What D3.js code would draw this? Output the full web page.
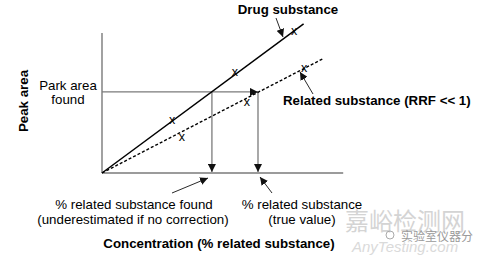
<!DOCTYPE html>
<html>
<head>
<meta charset="utf-8">
<script src="https://cdn.jsdelivr.net/npm/d3@7"></script>
<style>
  html, body { margin: 0; padding: 0; background: #fff; }
  svg text { font-family: "Liberation Sans", Arial, Helvetica, sans-serif; }
</style>
</head>
<body>
<div id="chart"></div>
<script>
// concentration (x) / peak area (y), arbitrary units
const drugLine = [[0, 0], [8.4, 10.65]];
const relatedLine = [[0, 0], [9.25, 8.2]];
const drugPoints = [[2.92, 3.79], [5.54, 7.21], [8.0, 10.14]];
const relatedPoints = [[3.33, 2.57], [6.04, 5.07], [8.42, 7.5]];
const foundArea = 5.79;
const foundConc = 4.58;
const trueConc = 6.5;

const width = 477, height = 259;
const x = d3.scaleLinear().domain([0, 10]).range([102, 342]);
const y = d3.scaleLinear().domain([0, 10]).range([173, 33]);

const svg = d3.select("#chart").append("svg")
  .attr("width", width).attr("height", height);

const defs = svg.append("defs");
defs.append("marker")
  .attr("id", "head")
  .attr("viewBox", "0 0 10 10")
  .attr("refX", 10).attr("refY", 5)
  .attr("markerWidth", 8).attr("markerHeight", 8)
  .attr("markerUnits", "userSpaceOnUse")
  .attr("orient", "auto")
  .append("path").attr("d", "M0,0L10,5L0,10Z").attr("fill", "#111");

// watermark
const wm = svg.append("g").attr("fill", "#d4d4d4");
wm.append("text").attr("x", 345).attr("y", 230)
  .style("font-family", "'Noto Sans CJK SC', sans-serif")
  .style("font-size", "24px").text("嘉峪检测网");
wm.append("text").attr("x", 352).attr("y", 252)
  .style("font-style", "italic").style("font-size", "15px")
  .attr("fill", "#dadada").text("AnyTesting.com");
wm.append("text").attr("x", 401).attr("y", 241)
  .style("font-family", "'Noto Sans CJK SC', sans-serif")
  .style("font-size", "12px").attr("fill", "#9a9a9a").text("实验室仪器分");
wm.append("circle").attr("cx", 390).attr("cy", 235).attr("r", 4)
  .attr("fill", "none").attr("stroke", "#aaa");

// axes
const axisColor = "#7a7a7a";
svg.append("line")
  .attr("x1", x(0)).attr("x2", x(0)).attr("y1", y(0)).attr("y2", y(10))
  .attr("stroke", axisColor).attr("stroke-width", 1.4);
svg.append("line")
  .attr("x1", x(0)).attr("x2", x(10.05)).attr("y1", y(0)).attr("y2", y(0))
  .attr("stroke", axisColor).attr("stroke-width", 1.4);

// guide lines
svg.append("line")
  .attr("x1", x(0)).attr("x2", x(trueConc)).attr("y1", y(foundArea)).attr("y2", y(foundArea))
  .attr("stroke", axisColor).attr("stroke-width", 1.3)
  .attr("marker-end", "url(#head)");
[foundConc, trueConc].forEach(c => {
  svg.append("line")
    .attr("x1", x(c)).attr("x2", x(c)).attr("y1", y(foundArea)).attr("y2", y(0) - 1)
    .attr("stroke", axisColor).attr("stroke-width", 1.3)
    .attr("marker-end", "url(#head)");
});

const line = d3.line().x(d => x(d[0])).y(d => y(d[1]));
svg.append("path").datum(drugLine).attr("d", line)
  .attr("fill", "none").attr("stroke", "#000").attr("stroke-width", 1.5);
svg.append("path").datum(relatedLine).attr("d", line)
  .attr("fill", "none").attr("stroke", "#000").attr("stroke-width", 1.4)
  .attr("stroke-dasharray", "3,2");

// x markers
const mark = (g, pts) => g.selectAll("text").data(pts).join("text")
  .attr("x", d => x(d[0])).attr("y", d => y(d[1]) + 4)
  .attr("text-anchor", "middle")
  .style("font-size", "12.5px").text("x");
mark(svg.append("g"), drugPoints);
mark(svg.append("g"), relatedPoints);

// labels
const fs = "13.3px";
svg.append("text").attr("x", 288).attr("y", 14).attr("text-anchor", "middle")
  .style("font-weight", "bold").style("font-size", fs).text("Drug substance");
svg.append("line").attr("x1", 276).attr("y1", 18).attr("x2", 283).attr("y2", 37)
  .attr("stroke", "#111").attr("stroke-width", 0.9).attr("marker-end", "url(#head)");

svg.append("text").attr("x", 283).attr("y", 105)
  .style("font-weight", "bold").style("font-size", fs).text("Related substance (RRF << 1)");
svg.append("line").attr("x1", 313).attr("y1", 94).attr("x2", 300).attr("y2", 72)
  .attr("stroke", "#111").attr("stroke-width", 0.9).attr("marker-end", "url(#head)");

svg.append("text").attr("x", 68).attr("y", 90).attr("text-anchor", "middle")
  .style("font-size", fs).text("Park area");
svg.append("text").attr("x", 68).attr("y", 104).attr("text-anchor", "middle")
  .style("font-size", fs).text("found");

svg.append("text").attr("transform", "translate(28,101) rotate(-90)")
  .attr("text-anchor", "middle")
  .style("font-weight", "bold").style("font-size", fs).text("Peak area");

svg.append("text").attr("x", 134).attr("y", 209).attr("text-anchor", "middle")
  .style("font-size", fs).text("% related substance found");
svg.append("text").attr("x", 133).attr("y", 224).attr("text-anchor", "middle")
  .style("font-size", fs).text("(underestimated if no correction)");
svg.append("line").attr("x1", 172).attr("y1", 193).attr("x2", 208).attr("y2", 178)
  .attr("stroke", "#111").attr("stroke-width", 0.9).attr("marker-end", "url(#head)");

svg.append("text").attr("x", 302).attr("y", 209).attr("text-anchor", "middle")
  .style("font-size", fs).text("% related substance");
svg.append("text").attr("x", 302).attr("y", 224).attr("text-anchor", "middle")
  .style("font-size", fs).text("(true value)");
svg.append("line").attr("x1", 272).attr("y1", 193).attr("x2", 260).attr("y2", 177)
  .attr("stroke", "#111").attr("stroke-width", 0.9).attr("marker-end", "url(#head)");

svg.append("text").attr("x", 219).attr("y", 248).attr("text-anchor", "middle")
  .style("font-weight", "bold").style("font-size", fs).text("Concentration (% related substance)");
</script>
</body>
</html>
